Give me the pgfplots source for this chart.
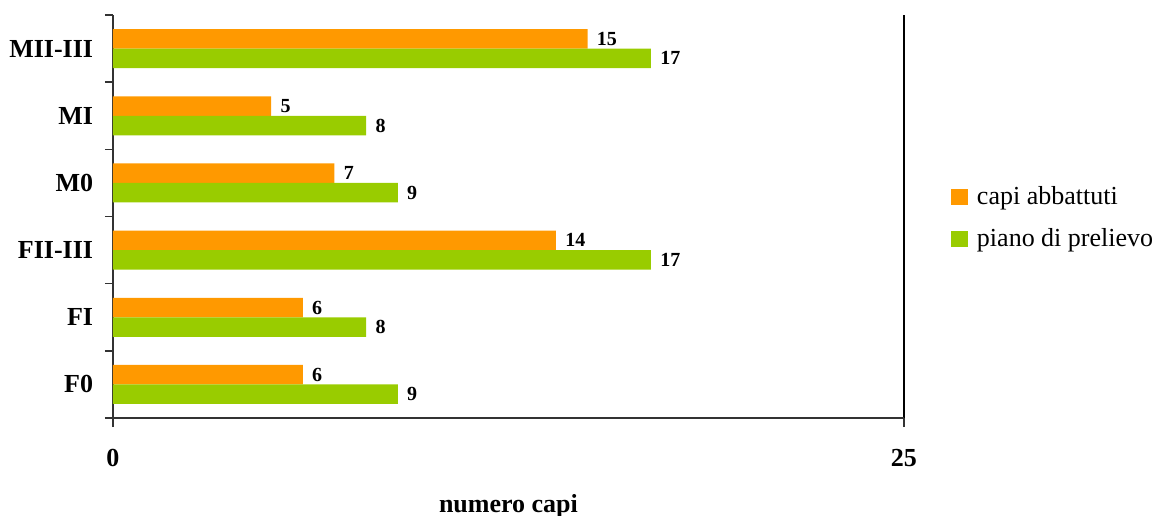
\documentclass[border=0pt]{standalone}
\usepackage{pgfplots}
\pgfplotsset{compat=1.18}
\usepackage{fontspec}
\setmainfont{Liberation Serif}
\definecolor{corange}{HTML}{FF9900}
\definecolor{cgreen}{HTML}{99CC00}
\begin{document}
\begin{tikzpicture}
\useasboundingbox (-56.5pt,-48.5pt) rectangle (522.5pt,209pt);
\begin{axis}[
  at={(0,0)}, anchor=south west,
  scale only axis, width=395.5pt, height=201.5pt,
  xbar, bar width=9.75pt,
  xmin=0, xmax=25, ymin=-0.5, ymax=5.5,
  axis x line*=bottom, axis y line*=left,
  axis line style={-, black!80, line width=0.7pt},
  tick align=outside,
  xtick={0,25}, xmajorgrids, grid style={black, line width=0.7pt},
  xtick style={black!80, line width=0.7pt, /pgfplots/major tick length=4.5pt},
  ytick={0,1,2,3,4,5},
  yticklabels={F0,FI,FII-III,M0,MI,MII-III},
  ytick style={black!80, line width=0.7pt, /pgfplots/major tick length=0pt, /pgfplots/minor tick length=4pt},
  minor ytick={-0.5,0.5,1.5,2.5,3.5,4.5,5.5},
  /pgf/number format/assume math mode=true,
  xticklabel style={font=\fontsize{13}{15}\selectfont\bfseries, inner sep=0pt, anchor=north, yshift=-11pt},
  yticklabel style={font=\fontsize{13}{15}\selectfont\bfseries, inner sep=0pt, anchor=east, xshift=-5.5pt},
  xlabel={numero capi},
  xlabel style={font=\fontsize{13}{15}\selectfont\bfseries, at={(axis description cs:0.5,0)}, anchor=center, yshift=-44pt},
  nodes near coords,
  nodes near coords style={font=\fontsize{10}{12}\selectfont\bfseries, inner sep=0pt, anchor=west, xshift=4.5pt},
  legend image code/.code={\draw[#1, draw=none] (0pt,-4.1pt) rectangle (8.3pt,4.1pt);},
  legend style={at={(1.0594,0.4963)}, anchor=west, draw=none, inner sep=0pt,
    font=\fontsize{13}{15}\selectfont, row sep=6.5pt,
    /tikz/every odd column/.append style={column sep=2.5pt}},
  legend cell align=left,
]
\addplot[fill=corange, draw=none, bar shift=4.875pt] coordinates {(6,0) (6,1) (14,2) (7,3) (5,4) (15,5)};
\addplot[fill=cgreen, draw=none, bar shift=-4.875pt] coordinates {(9,0) (8,1) (17,2) (9,3) (8,4) (17,5)};
\legend{capi abbattuti, piano di prelievo}
\end{axis}
\end{tikzpicture}
\end{document}
